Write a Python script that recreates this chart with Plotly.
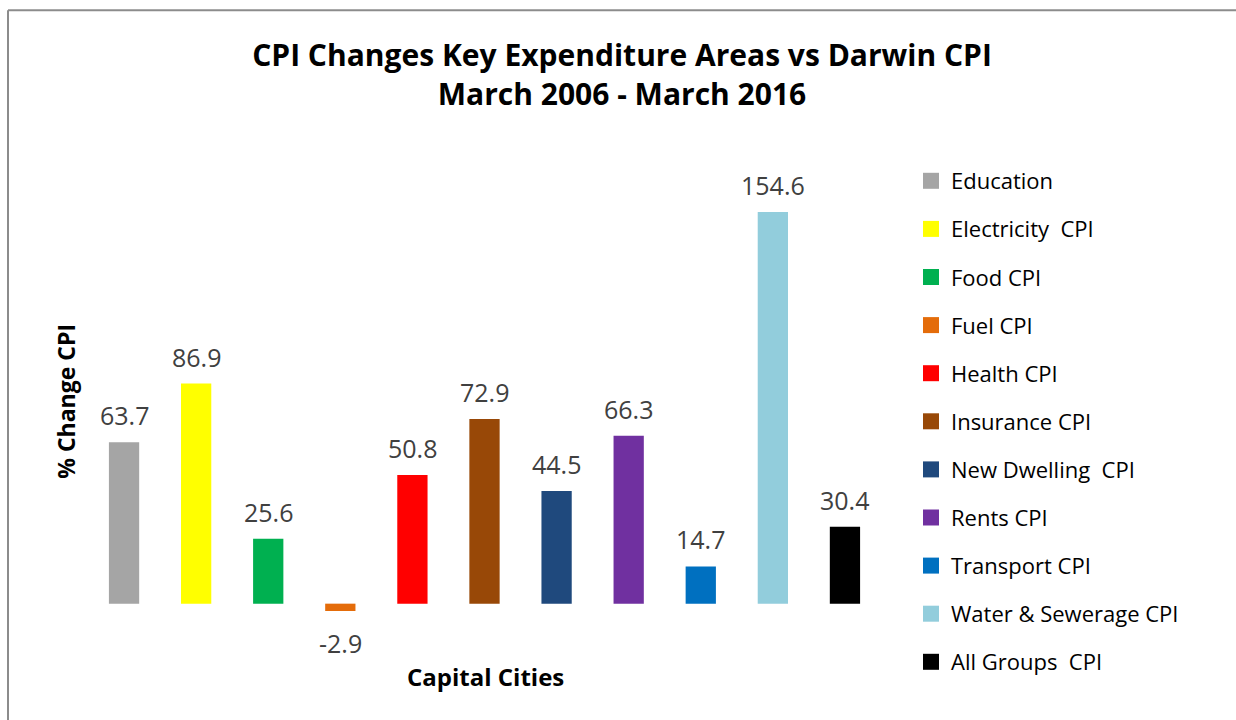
import plotly.graph_objects as go

# data
categories = ["Education", "Electricity  CPI", "Food CPI", "Fuel CPI", "Health CPI",
              "Insurance CPI", "New Dwelling  CPI", "Rents CPI", "Transport CPI",
              "Water & Sewerage CPI", "All Groups  CPI"]
values = [63.7, 86.9, 25.6, -2.9, 50.8, 72.9, 44.5, 66.3, 14.7, 154.6, 30.4]
colors = ["#A5A5A5", "#FFFF00", "#00B050", "#E46C0A", "#FF0000", "#984807",
          "#1F497D", "#7030A0", "#0070C0", "#92CDDC", "#000000"]

W, H = 1236, 720
ML, MT = 88, 173
PW, PH = 793, 456.5
MR, MB = W - ML - PW, H - MT - PH
y_range = [-10, 170]

font = "'Open Sans', Lato, sans-serif"


def px_x(x):
    # figure pixel -> paper x
    return (x - ML) / PW


def px_y(y):
    # figure pixel -> paper y
    return (H - MB - y) / PH


fig = go.Figure()
for cat, val, col in zip(categories, values, colors):
    fig.add_trace(go.Bar(
        x=[cat], y=[val], marker=dict(color=col, line=dict(width=0)),
        showlegend=False, legendgroup=cat, hoverinfo="x+y",
    ))
    # legend entry with a bigger square swatch
    fig.add_trace(go.Scatter(
        x=[None], y=[None], mode="markers", name=cat, legendgroup=cat,
        marker=dict(symbol="square", size=16, color=col),
    ))

# value labels
for cat, val in zip(categories, values):
    fig.add_annotation(
        x=cat, y=val, text=f"{val:.1f}", showarrow=False,
        yanchor="middle", yshift=27 if val >= 0 else -32,
        font=dict(family=font, size=25, color="#404040"),
    )

# axis titles
fig.add_annotation(
    text="<b>% Change CPI</b>", xref="paper", yref="paper",
    x=px_x(66), y=px_y(402),
    textangle=-90, showarrow=False, xanchor="center", yanchor="middle",
    font=dict(family=font, size=23, color="black"),
)
fig.add_annotation(
    text="<b>Capital Cities</b>", xref="paper", yref="paper",
    x=px_x(485), y=px_y(677),
    showarrow=False, xanchor="center", yanchor="middle",
    font=dict(family=font, size=24, color="black"),
)

# outer grey frame (only top and left edges are in view)
frame = dict(color="#8C8C8C", width=2)
fig.add_shape(type="line", xref="paper", yref="paper",
              x0=px_x(8), x1=px_x(W + 5), y0=px_y(10), y1=px_y(10), line=frame)
fig.add_shape(type="line", xref="paper", yref="paper",
              x0=px_x(8), x1=px_x(8), y0=px_y(10), y1=px_y(H + 5), line=frame)

fig.update_layout(
    width=W, height=H,
    margin=dict(l=ML, r=MR, t=MT, b=MB),
    paper_bgcolor="white", plot_bgcolor="white",
    barmode="overlay", bargap=0.58,
    title=dict(
        text="<b>CPI Changes Key Expenditure Areas vs Darwin CPI<br>March 2006 - March 2016</b>",
        xref="container", yref="container", x=622 / W, y=1 - 66 / H,
        xanchor="center", yanchor="middle",
        font=dict(family=font, size=30, color="black"),
    ),
    xaxis=dict(range=[-0.5, len(categories) - 0.5], showticklabels=False,
               showgrid=False, zeroline=False, showline=False, ticks="",
               fixedrange=True),
    yaxis=dict(range=y_range, showticklabels=False, showgrid=False, zeroline=False,
               showline=False, ticks="", fixedrange=True),
    legend=dict(
        xref="container", yref="container", x=911 / W, y=1 - 160 / H,
        xanchor="left", yanchor="top", tracegroupgap=16.5, maxheight=560,
        font=dict(family=font, size=22, color="black"),
        bgcolor="rgba(0,0,0,0)",
    ),
    showlegend=True,
)

# drop the default body margin so the figure fills the window exactly
fig.write_html(
    "out.html",
    config={"displayModeBar": False},
    post_script="document.body.style.margin='0';document.body.style.overflow='hidden';",
)
